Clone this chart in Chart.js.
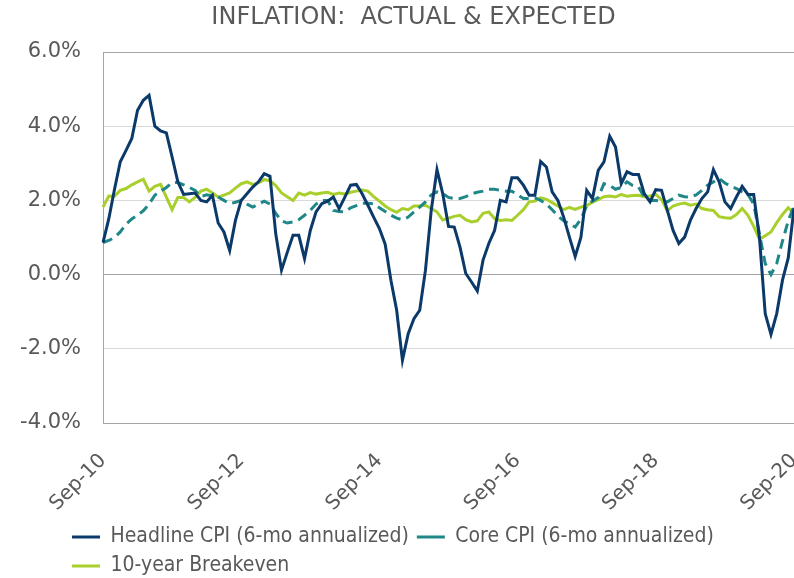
<!DOCTYPE html>
<html>
<head>
<meta charset="utf-8">
<script src="https://cdn.jsdelivr.net/npm/chart.js@4.4.1/dist/chart.umd.min.js"></script>
<style>
  html, body { margin: 0; padding: 0; background: #fff; }
  #wrap { width: 794px; height: 578px; position: relative; }
</style>
</head>
<body>
<div id="wrap"><canvas id="inflation_chart"></canvas></div>
<script>
// monthly, Sep-10 .. Sep-20
var monthNames = ["Jan", "Feb", "Mar", "Apr", "May", "Jun", "Jul", "Aug", "Sep", "Oct", "Nov", "Dec"];
var months = [];
for (var m = 0; m <= 120; m++) {
  var k = 8 + m;
  var yy = 10 + Math.floor(k / 12);
  months.push(monthNames[k % 12] + "-" + yy);
}

var headlineCPI = [
  0.86, 1.5, 2.3, 3.04, 3.35, 3.67, 4.43, 4.70, 4.83, 4.0, 3.87, 3.82,
  3.17, 2.50, 2.16, 2.18, 2.20, 2.0, 1.96, 2.14, 1.39, 1.15, 0.65, 1.46,
  2.0, 2.18, 2.36, 2.5, 2.72, 2.65, 1.1, 0.12, 0.6, 1.06, 1.06, 0.43,
  1.19, 1.69, 1.91, 1.98, 2.09, 1.78, 2.09, 2.41, 2.43, 2.18, 1.87, 1.55,
  1.24, 0.82, -0.15, -0.96, -2.31, -1.59, -1.19, -0.96, 0.12, 1.73, 2.83, 2.18,
  1.30, 1.28, 0.74, 0.03, -0.2, -0.44, 0.39, 0.84, 1.19, 2.0, 1.96, 2.61,
  2.61, 2.41, 2.14, 2.14, 3.05, 2.90, 2.23, 2.0, 1.55, 1.01, 0.49, 1.01,
  2.27, 2.05, 2.81, 3.04, 3.73, 3.44, 2.45, 2.77, 2.70, 2.70, 2.18, 1.96,
  2.29, 2.27, 1.73, 1.19, 0.84, 1.01, 1.46, 1.78, 2.05, 2.23, 2.83, 2.50,
  1.96, 1.78, 2.09, 2.38, 2.16, 2.16, 1.0, -1.05, -1.61, -1.05, -0.15, 0.45,
  1.8
];

var coreCPI = [
  0.86, 0.92, 1.0, 1.15, 1.36, 1.5, 1.6, 1.72, 1.9, 2.14, 2.25, 2.35,
  2.48, 2.48, 2.42, 2.35, 2.27, 2.1, 2.15, 2.12, 2.09, 2.0, 1.91, 1.95,
  2.0, 1.9, 1.82, 1.9, 1.98, 1.9, 1.65, 1.45, 1.39, 1.42, 1.48, 1.6,
  1.73, 1.9, 2.0, 2.0, 1.73, 1.7, 1.69, 1.8, 1.86, 1.92, 1.92, 1.91,
  1.8, 1.7, 1.6, 1.52, 1.48, 1.55, 1.69, 1.82, 1.96, 2.15, 2.23, 2.18,
  2.08, 2.05, 2.05, 2.1, 2.18, 2.22, 2.25, 2.3, 2.3, 2.27, 2.25, 2.25,
  2.15, 2.05, 2.05, 2.07, 2.0, 1.9, 1.75, 1.58, 1.45, 1.37, 1.28, 1.5,
  1.85, 1.98, 2.08, 2.45, 2.4, 2.3, 2.35, 2.5, 2.4, 2.36, 2.09, 2.0,
  2.0, 1.98, 1.96, 2.05, 2.14, 2.1, 2.09, 2.15, 2.27, 2.41, 2.5, 2.59,
  2.47, 2.38, 2.32, 2.23, 2.16, 1.9, 1.1, 0.3, 0.0, 0.3, 0.9, 1.45,
  1.85
];

var breakeven10y = [
  1.82, 2.12, 2.11, 2.27, 2.32, 2.42, 2.5, 2.57, 2.25, 2.38, 2.43, 2.09,
  1.75, 2.08, 2.08, 1.96, 2.08, 2.25, 2.3, 2.2, 2.09, 2.14, 2.2, 2.33,
  2.45, 2.5, 2.43, 2.47, 2.56, 2.53, 2.4, 2.2, 2.1, 2.0, 2.2, 2.14,
  2.21, 2.17, 2.2, 2.22, 2.16, 2.2, 2.17, 2.22, 2.25, 2.28, 2.25, 2.1,
  1.98, 1.85, 1.75, 1.68, 1.78, 1.75, 1.85, 1.85, 1.87, 1.78, 1.69, 1.47,
  1.52, 1.57, 1.6, 1.48, 1.42, 1.45, 1.65, 1.69, 1.51, 1.46, 1.48, 1.46,
  1.6, 1.75, 1.96, 1.98, 2.07, 2.03, 1.94, 1.85, 1.75, 1.81, 1.76, 1.82,
  1.86, 1.95, 2.02, 2.1, 2.12, 2.09, 2.16, 2.11, 2.13, 2.14, 2.1, 2.12,
  2.16, 2.02, 1.72, 1.85, 1.9, 1.93, 1.87, 1.9, 1.78, 1.75, 1.73, 1.56,
  1.53, 1.52, 1.62, 1.78, 1.6, 1.3, 0.95, 1.05, 1.15, 1.4, 1.62, 1.8,
  1.64
];

var yMin = -4, yMax = 6, yStep = 2;
var labelEvery = 24;

var textColor = "#595959";

// small shifts so title and legend sit where the original has them
var nudgeBoxes = {
  id: "nudgeBoxes",
  afterLayout: function(chart) {
    var t = chart.titleBlock;
    if (t) { t.left += 16.5; t.right += 16.5; }
    var lg = chart.legend;
    if (lg) { lg.left += 64; lg.top += 8.5; lg.bottom += 8.5; }
  }
};

var chart = new Chart("inflation_chart", {
  type: "line",
  data: {
    labels: months,
    datasets: [{
      label: "Headline CPI (6-mo annualized)",
      data: headlineCPI,
      borderColor: "#0b3a6a",
      backgroundColor: "#0b3a6a",
      borderWidth: 3,
      pointRadius: 0,
      pointStyle: "line",
      tension: 0
    }, {
      label: "Core CPI (6-mo annualized)",
      data: coreCPI,
      borderColor: "#1f8787",
      backgroundColor: "#1f8787",
      borderWidth: 3,
      borderDash: [10, 6],
      pointRadius: 0,
      pointStyle: "line",
      tension: 0
    }, {
      label: "10-year Breakeven",
      data: breakeven10y,
      borderColor: "#a8cf2b",
      backgroundColor: "#a8cf2b",
      borderWidth: 3,
      pointRadius: 0,
      pointStyle: "line",
      tension: 0
    }]
  },
  options: {
    responsive: true,
    maintainAspectRatio: false,
    animation: false,
    layout: { padding: 0 },
    plugins: {
      title: {
        display: true,
        text: "INFLATION:  ACTUAL & EXPECTED",
        color: textColor,
        font: { family: "'DejaVu Sans', Verdana, sans-serif", size: 24, weight: "normal" },
        padding: { top: 3, bottom: 20.2 }
      },
      legend: {
        position: "bottom",
        align: "start",
        labels: {
          usePointStyle: true,
          pointStyleWidth: 28,
          color: textColor,
          padding: 8,
          font: { family: "'DejaVu Sans Condensed', 'DejaVu Sans', sans-serif", size: 21 }
        }
      },
      tooltip: { enabled: false }
    },
    scales: {
      x: {
        grid: { display: false },
        border: { display: true, color: "#a6a6a6", width: 1 },
        afterFit: function(scale) {
          scale.height = 87;
          scale.paddingRight = 0;
          scale.paddingLeft = 0;
        },
        ticks: {
          autoSkip: false,
          minRotation: 45,
          maxRotation: 45,
          padding: 18,
          color: textColor,
          font: { family: "'DejaVu Sans', Verdana, sans-serif", size: 20 },
          callback: function(v, i) {
            return i % labelEvery === 0 ? months[i] : null;
          }
        }
      },
      y: {
        min: yMin,
        max: yMax,
        afterFit: function(scale) { scale.width = 103; },
        border: { display: true, color: "#a6a6a6", width: 1 },
        grid: {
          drawTicks: false,
          color: function(ctx) {
            var v = ctx.tick ? ctx.tick.value : 0;
            return (v === 0 || v === yMax || v === yMin) ? "#a6a6a6" : "#d9d9d9";
          },
          lineWidth: 1
        },
        ticks: {
          stepSize: yStep,
          padding: 22,
          color: textColor,
          font: { family: "'DejaVu Sans', Verdana, sans-serif", size: 21 },
          callback: function(v) { return v.toFixed(1) + "%"; }
        }
      }
    }
  },
  plugins: [nudgeBoxes]
});
</script>
</body>
</html>
